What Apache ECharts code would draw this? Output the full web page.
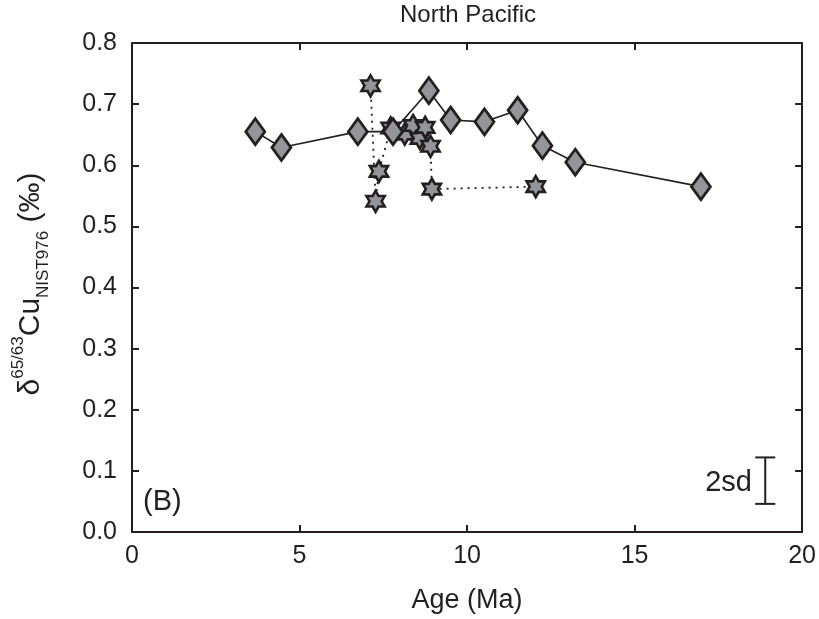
<!DOCTYPE html>
<html>
<head>
<meta charset="utf-8">
<script src="https://cdn.jsdelivr.net/npm/echarts@6/dist/echarts.min.js"></script>
<style>
html,body{margin:0;padding:0;background:#fff;}
#c{width:819px;height:619px;}
</style>
</head>
<body>
<div id="c"></div>
<script>
// Diamonds (solid line)
const diamondAge = [3.68, 4.46, 6.74, 7.79, 8.86, 9.51, 10.52, 11.51, 12.25, 13.23, 16.98];
const diamondCu  = [0.655, 0.629, 0.655, 0.655, 0.722, 0.674, 0.671, 0.690, 0.632, 0.605, 0.565];
// Stars (dotted line)
const starAge = [7.12, 7.27, 7.37, 7.72, 8.14, 8.39, 8.59, 8.75, 8.91, 8.95, 12.05];
const starCu  = [0.730, 0.541, 0.590, 0.661, 0.651, 0.665, 0.644, 0.662, 0.631, 0.561, 0.565];
// 2sd error bar: [x, low, high]
const errBar = [[18.9, 0.046, 0.122]];
const xTicks = [0, 5, 10, 15, 20];
const yTicks = [0.0, 0.1, 0.2, 0.3, 0.4, 0.5, 0.6, 0.7, 0.8];

const ink = '#231f20';
const grayFill = '#939598';
const font = 'Liberation Sans, Arial, Helvetica, sans-serif';
const hexagram = 'path://M0,-10 L2.887,-5 L8.66,-5 L5.774,0 L8.66,5 L2.887,5 L0,10 L-2.887,5 L-8.66,5 L-5.774,0 L-8.66,-5 L-2.887,-5 Z';

const chart = echarts.init(document.getElementById('c'), null, {renderer: 'canvas'});

const axisCommon = {
  axisLine: {show: true, onZero: false, lineStyle: {color: ink, width: 2}},
  axisTick: {show: true, inside: true, length: 7, lineStyle: {color: ink, width: 2}},
  splitLine: {show: false}
};

chart.setOption({
  animation: false,
  grid: {left: 132, right: 14, top: 43, bottom: 85, containLabel: false},
  xAxis: [
    Object.assign({
      type: 'value', min: xTicks[0], max: xTicks[xTicks.length - 1], interval: 5, position: 'bottom',
      axisLabel: {color: ink, fontSize: 25, fontFamily: font, margin: 12},
      name: 'Age (Ma)', nameLocation: 'middle', nameGap: 55,
      nameTextStyle: {color: ink, fontSize: 27, fontFamily: font}
    }, axisCommon),
    Object.assign({
      type: 'value', min: xTicks[0], max: xTicks[xTicks.length - 1], interval: 5, position: 'top',
      axisLabel: {show: false}
    }, axisCommon)
  ],
  yAxis: [
    Object.assign({
      type: 'value', min: yTicks[0], max: yTicks[yTicks.length - 1], interval: 0.1, position: 'left',
      axisLabel: {color: ink, fontSize: 25, fontFamily: font, margin: 15,
        formatter: v => v.toFixed(1)}
    }, axisCommon),
    Object.assign({
      type: 'value', min: yTicks[0], max: yTicks[yTicks.length - 1], interval: 0.1, position: 'right',
      axisLabel: {show: false}
    }, axisCommon)
  ],
  graphic: [
    {type: 'text', x: 468, y: 15, style: {text: 'North Pacific', fill: ink, font: '24px ' + font, align: 'center', verticalAlign: 'middle'}},
    {type: 'text', x: 143, y: 502, style: {text: '(B)', fill: ink, font: '29px ' + font, align: 'left', verticalAlign: 'middle'}},
    {type: 'text', x: 752, y: 483, style: {text: '2sd', fill: ink, font: '29px ' + font, align: 'right', verticalAlign: 'middle'}},
    {type: 'text', x: 31, y: 284, rotation: Math.PI / 2,
      style: {
        text: '{m|δ}{sup|65/63}{m|Cu}{sub|NIST976}{m| (‰)}',
        align: 'center', verticalAlign: 'middle', fill: ink,
        rich: {
          m: {fontSize: 30, fontFamily: font, fill: ink, lineHeight: 42, verticalAlign: 'middle'},
          sup: {fontSize: 17, fontFamily: font, fill: ink, lineHeight: 42, verticalAlign: 'top'},
          sub: {fontSize: 17, fontFamily: font, fill: ink, lineHeight: 42, verticalAlign: 'bottom'}
        }
      }}
  ],
  series: [
    {
      type: 'line', name: 'stars', xAxisIndex: 0, yAxisIndex: 0,
      data: starAge.map((a, i) => [a, starCu[i]]),
      symbol: hexagram, symbolSize: 21, symbolKeepAspect: true,
      itemStyle: {color: grayFill, borderColor: ink, borderWidth: 2.6},
      lineStyle: {color: ink, width: 1.8, type: [2, 5]},
      z: 2
    },
    {
      type: 'line', name: 'diamonds', xAxisIndex: 0, yAxisIndex: 0,
      data: diamondAge.map((a, i) => [a, diamondCu[i]]),
      symbol: 'diamond', symbolSize: [19, 26],
      itemStyle: {color: grayFill, borderColor: ink, borderWidth: 2.8},
      lineStyle: {color: ink, width: 1.6},
      z: 3
    },
    {
      type: 'custom', name: '2sd', xAxisIndex: 0, yAxisIndex: 0,
      data: errBar,
      renderItem: function (params, api) {
        const top = api.coord([api.value(0), api.value(2)]);
        const bot = api.coord([api.value(0), api.value(1)]);
        const hw = 10;
        const st = {stroke: ink, lineWidth: 2};
        return {type: 'group', children: [
          {type: 'line', shape: {x1: top[0], y1: top[1], x2: bot[0], y2: bot[1]}, style: st},
          {type: 'line', shape: {x1: top[0] - hw, y1: top[1], x2: top[0] + hw, y2: top[1]}, style: st},
          {type: 'line', shape: {x1: bot[0] - hw, y1: bot[1], x2: bot[0] + hw, y2: bot[1]}, style: st}
        ]};
      },
      z: 4
    }
  ]
});
</script>
</body>
</html>
